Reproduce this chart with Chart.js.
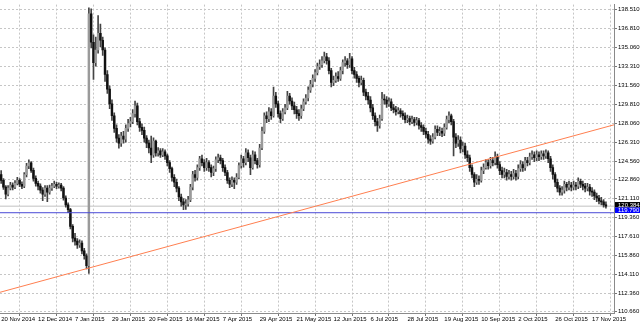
<!DOCTYPE html>
<html>
<head>
<meta charset="utf-8">
<script src="https://cdn.jsdelivr.net/npm/chart.js@4.4.1/dist/chart.umd.min.js"></script>
<style>
  html, body { margin: 0; padding: 0; background: #fff; }
  #wrap { width: 640px; height: 322px; }
</style>
</head>
<body>
<div id="wrap"><canvas id="chart"></canvas></div>
<script>
// daily bars, 20 Nov 2014 .. 25 Nov 2015 (open = previous close)
const firstOpen = 123.30;
const closes = [
  122.78,122.15,121.50,122.06,122.33,122.15,122.50,122.78,122.42,122.24,123.30,124.10,124.40,123.70,122.96,122.50,
  122.24,121.87,121.51,122.06,121.69,122.06,122.24,122.42,122.24,122.33,122.06,121.15,120.52,120.07,118.53,117.44,
  117.17,116.81,116.99,116.27,115.82,114.90,138.15,135.52,133.63,134.80,136.34,135.70,134.80,132.54,131.19,129.83,
  128.74,127.57,126.67,126.21,126.85,126.58,127.57,128.02,128.20,128.93,129.65,128.20,127.66,127.39,126.67,126.21,
  125.76,125.13,126.39,125.31,125.49,125.13,125.40,125.04,124.41,123.86,123.05,122.60,122.06,121.24,120.79,120.52,
  120.61,120.97,122.15,123.32,123.05,123.95,124.77,124.41,123.95,124.41,123.95,123.50,123.86,124.68,124.86,124.59,
  123.95,123.50,122.78,122.42,122.78,122.60,123.05,124.14,124.77,124.41,125.31,124.86,123.95,125.13,124.59,124.23,
  125.76,127.30,128.74,128.47,129.10,128.74,130.55,129.83,128.93,128.47,129.10,129.47,130.55,130.10,129.65,129.29,
  128.93,128.74,129.38,130.01,130.37,131.10,131.64,132.18,132.72,133.27,133.45,133.81,134.17,133.81,132.90,131.82,
  132.00,132.36,132.18,132.90,133.63,133.81,133.45,133.99,132.90,132.54,132.18,131.82,132.00,130.91,130.55,130.19,
  129.47,128.74,128.20,127.84,128.47,130.28,130.19,129.83,130.01,129.47,129.29,129.11,129.20,128.93,128.74,128.38,
  128.47,128.20,128.38,128.11,128.29,127.84,127.66,127.30,127.03,126.58,126.40,126.76,127.48,127.21,127.30,127.12,
  127.66,128.38,128.74,128.20,126.76,126.21,126.49,125.67,125.94,125.13,124.86,123.95,123.32,122.60,122.87,122.78,
  123.68,123.95,124.41,124.14,124.59,124.41,124.95,124.23,123.68,123.32,123.50,123.14,123.32,123.14,123.41,123.14,
  123.86,124.23,123.95,124.59,124.41,124.95,125.13,124.86,125.13,124.95,125.22,125.04,125.31,124.77,123.95,123.32,
  122.60,122.06,121.69,121.87,122.42,122.15,122.33,122.15,122.33,122.24,122.69,122.42,122.24,122.06,122.15,121.78,
  121.69,121.33,121.15,120.88,120.79,120.52,120.384
];
const highs = [
  123.68,122.95,122.30,122.30,122.60,122.55,122.75,123.05,122.95,122.65,123.50,124.35,124.68,124.50,123.90,123.20,
  122.70,122.45,122.10,122.30,122.30,122.35,122.50,122.70,122.60,122.55,122.50,122.20,121.35,120.70,120.20,118.70,
  117.90,117.40,117.30,117.20,116.50,116.00,138.69,138.60,136.20,136.00,137.97,137.20,136.00,135.00,132.90,131.50,
  130.20,129.00,127.90,127.00,127.20,127.30,127.90,128.40,128.60,129.30,130.10,129.90,128.50,128.00,127.70,126.90,
  126.50,126.85,126.70,126.50,125.80,125.70,125.70,125.60,125.20,124.60,124.00,123.30,122.90,122.20,121.50,121.10,
  121.00,121.30,122.40,123.60,123.70,124.20,125.00,125.10,124.70,124.80,124.60,124.20,124.10,124.95,125.20,125.10,
  124.80,124.20,123.70,123.00,123.10,123.00,123.40,124.40,125.10,125.00,125.70,125.60,125.10,125.50,125.40,124.80,
  126.10,127.70,129.00,129.10,129.50,129.40,131.37,130.90,130.10,129.20,129.40,129.80,131.00,130.80,130.40,130.00,
  129.60,129.30,129.70,130.30,130.70,131.40,132.00,132.50,133.00,133.60,133.90,134.20,134.62,134.50,134.10,133.10,
  132.40,132.70,132.80,133.20,133.90,134.20,134.00,134.50,134.20,133.20,132.80,132.40,132.40,132.20,131.20,130.90,
  130.50,129.80,129.00,128.50,128.80,130.90,130.70,130.50,130.40,130.30,129.80,129.60,129.50,129.40,129.20,129.00,
  128.80,128.70,128.70,128.60,128.60,128.50,128.10,127.90,127.60,127.30,126.90,127.10,127.80,127.80,127.70,127.60,
  128.00,128.70,129.10,128.90,128.40,127.10,126.90,126.80,126.30,126.20,125.50,125.10,124.20,123.50,123.30,123.20,
  124.00,124.30,124.70,124.70,124.90,124.90,125.40,125.20,124.50,124.00,123.90,123.80,123.70,123.60,123.80,123.70,
  124.20,124.60,124.50,124.90,124.90,125.30,125.50,125.40,125.50,125.40,125.50,125.50,125.60,125.50,125.00,124.20,
  123.50,122.90,122.30,122.20,122.70,122.60,122.70,122.60,122.70,122.60,123.00,122.90,122.70,122.50,122.50,122.40,
  122.10,121.90,121.60,121.40,121.20,121.00,120.80
];
const lows = [
  122.50,121.95,121.06,121.35,121.90,121.90,122.00,122.35,122.20,122.00,122.10,123.10,123.85,123.50,122.70,122.25,
  121.90,121.60,120.90,121.30,120.80,121.50,121.85,122.10,122.00,122.05,121.80,120.95,120.30,119.80,118.30,117.10,
  116.80,116.50,116.60,116.00,115.50,114.60,114.19,135.00,132.09,133.30,134.50,135.10,134.30,131.90,130.80,129.40,
  128.30,127.20,126.30,125.75,125.90,126.20,126.30,127.30,127.70,128.00,128.60,127.90,127.30,127.00,126.30,125.80,
  125.30,124.41,124.90,125.00,125.00,124.90,124.95,124.70,124.10,123.50,122.70,122.20,121.70,120.90,120.40,120.07,
  120.10,120.40,120.80,121.90,122.70,122.80,123.70,124.10,123.60,123.70,123.60,123.10,123.20,123.60,124.40,124.30,
  123.60,123.20,122.50,122.10,122.20,122.00,122.40,122.90,123.90,124.00,124.20,124.50,123.30,123.80,124.30,123.90,
  124.00,125.60,127.10,128.10,128.20,128.40,128.60,129.50,128.60,128.10,128.30,128.90,129.30,129.80,129.30,128.90,
  128.50,128.30,128.50,129.20,129.80,130.10,130.90,131.40,131.90,132.50,133.00,133.20,133.60,133.50,132.60,131.40,
  131.50,131.80,131.90,132.00,132.60,133.30,133.10,133.20,132.60,132.20,131.80,131.40,131.60,130.60,130.20,129.80,
  129.10,128.40,127.80,127.30,127.60,128.30,129.80,129.50,129.60,129.20,129.00,128.80,128.90,128.60,128.40,128.10,
  128.10,127.90,128.00,127.80,127.90,127.50,127.30,127.00,126.70,126.20,126.10,126.20,126.60,126.90,126.90,126.80,
  126.90,127.50,128.10,127.90,125.04,125.80,125.90,125.30,125.40,124.80,124.50,123.60,123.00,122.20,122.40,122.40,
  122.60,123.40,123.80,123.80,123.90,124.10,124.20,123.90,123.30,123.00,123.00,122.80,122.90,122.80,122.90,122.80,
  122.90,123.60,123.60,123.70,124.10,124.20,124.70,124.50,124.60,124.60,124.70,124.70,124.80,124.40,123.60,122.90,
  122.20,121.70,121.40,121.40,121.60,121.80,121.90,121.80,121.90,121.90,122.00,122.10,121.90,121.70,121.80,121.40,
  121.30,121.00,120.80,120.60,120.50,120.30,120.20
];

// axis labels
const dateLabels = ['20 Nov 2014','12 Dec 2014','7 Jan 2015','29 Jan 2015','20 Feb 2015','16 Mar 2015',
  '7 Apr 2015','29 Apr 2015','21 May 2015','12 Jun 2015','6 Jul 2015','28 Jul 2015','19 Aug 2015',
  '10 Sep 2015','2 Oct 2015','26 Oct 2015','17 Nov 2015'];
const barsPerLabel = 16;
const priceTicks = [110.66,112.36,114.11,115.86,117.61,119.36,121.11,122.86,124.56,126.31,128.06,
  129.81,131.56,133.31,135.06,136.81,138.51];

// objects on the chart
const trendLine = [{x: -0.5, y: 112.45}, {x: 265.5, y: 127.90}];
const levelLine = 119.790;
const bidPrice = 120.384;
const xMin = -0.5, xMax = 265.5;
const yMin = 110.54, yMax = 138.99;

const opens = closes.map((c, i) => i === 0 ? firstOpen : closes[i - 1]);

const FONT = {family: 'Liberation Sans, Arial, sans-serif', size: 6};

const priceTags = {
    id: 'priceTags',
    afterDraw(chart) {
        const {ctx, chartArea, scales: {y}} = chart;
        const tags = [
            {v: bidPrice, bg: '#000000', shift: -1.5},
            {v: levelLine, bg: '#0000ff', shift: -2.5}
        ];
        ctx.save();
        ctx.font = '6px ' + FONT.family;
        ctx.textBaseline = 'middle';
        tags.forEach(t => {
            const py = y.getPixelForValue(t.v) + t.shift;
            ctx.fillStyle = t.bg;
            ctx.fillRect(chartArea.right + 1, py - 2.75, 25, 5.5);
            ctx.fillStyle = '#ffffff';
            ctx.fillText(t.v.toFixed(3), chartArea.right + 4, py + 0.3);
        });
        ctx.restore();
    }
};

const ctx = document.getElementById('chart').getContext('2d');
new Chart(ctx, {
    type: 'bar',
    data: {
        datasets: [
            {
                type: 'line',
                data: trendLine,
                borderColor: '#ff7f50',
                borderWidth: 1,
                pointRadius: 0,
                order: 0
            },
            {
                type: 'line',
                data: [{x: xMin, y: levelLine}, {x: xMax, y: levelLine}],
                borderColor: '#4a4ad6',
                borderWidth: 1,
                pointRadius: 0,
                order: 0
            },
            {
                type: 'line',
                data: [{x: xMin, y: bidPrice}, {x: xMax, y: bidPrice}],
                borderColor: '#d6d6d6',
                borderWidth: 1.5,
                pointRadius: 0,
                order: 5
            },
            {
                data: closes.map((c, i) => ({x: i, y: [opens[i], c]})),
                backgroundColor: closes.map((c, i) => c >= opens[i] ? '#9a9a9a' : '#111111'),
                barThickness: 1.8,
                minBarLength: 1,
                grouped: false,
                order: 1
            },
            {
                data: closes.map((c, i) => ({x: i, y: [lows[i], highs[i]]})),
                backgroundColor: '#444444',
                barThickness: 1,
                grouped: false,
                order: 2
            }
        ]
    },
    options: {
        responsive: true,
        maintainAspectRatio: false,
        animation: false,
        devicePixelRatio: 1,
        layout: {padding: 0},
        plugins: {legend: {display: false}, tooltip: {enabled: false}},
        scales: {
            x: {
                type: 'linear',
                min: xMin,
                max: xMax,
                offset: false,
                afterBuildTicks: s => {
                    s.ticks = dateLabels.map((d, i) => ({value: i * barsPerLabel}));
                },
                afterFit: s => { s.height = 9; },
                ticks: {
                    autoSkip: false,
                    maxRotation: 0,
                    minRotation: 0,
                    align: 'start',
                    padding: 0,
                    color: '#000',
                    font: FONT,
                    callback: v => dateLabels[v / barsPerLabel]
                },
                grid: {color: '#c6c6c6', tickColor: '#777', tickLength: 3},
                border: {color: '#8a8a8a', dash: [2, 2]}
            },
            y: {
                position: 'right',
                min: yMin,
                max: yMax,
                afterBuildTicks: s => {
                    s.ticks = priceTicks.map(v => ({value: v}));
                },
                afterFit: s => { s.width = 26; },
                ticks: {
                    padding: 1,
                    color: '#000',
                    font: FONT,
                    callback: v => v.toFixed(3)
                },
                grid: {color: '#c6c6c6', tickColor: '#777', tickLength: 3},
                border: {color: '#8a8a8a', dash: [2, 2]}
            }
        }
    },
    plugins: [priceTags]
});
</script>
</body>
</html>
